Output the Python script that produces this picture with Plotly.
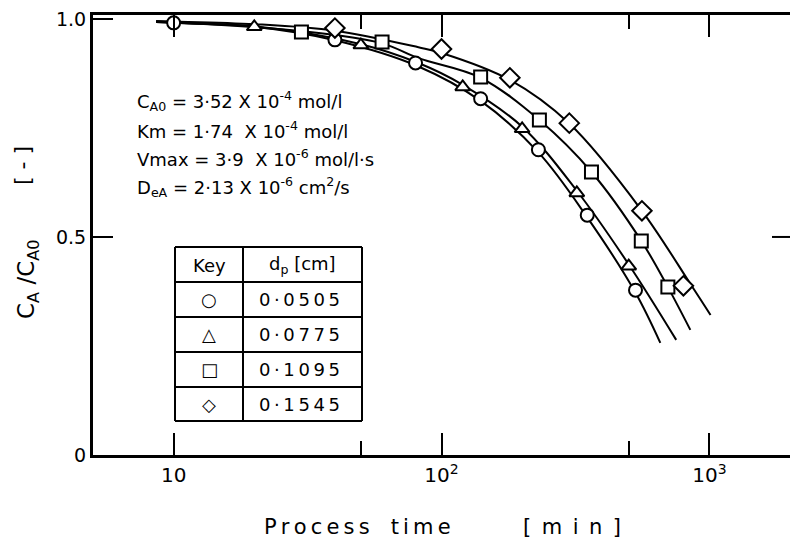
import plotly.graph_objects as go

# Measured residual concentration ratio C_A/C_A0 vs process time [min]
t_circle = [10, 40, 80, 140, 230, 350, 530]
c_circle = [0.991, 0.952, 0.899, 0.817, 0.700, 0.550, 0.378]
t_tri = [20, 50, 120, 200, 320, 500]
c_tri = [0.982, 0.940, 0.844, 0.748, 0.601, 0.433]
t_sq = [30, 60, 140, 232, 363, 557, 700]
c_sq = [0.970, 0.947, 0.867, 0.768, 0.649, 0.491, 0.385]
t_dia = [40, 100, 180, 300, 560, 800]
c_dia = [0.979, 0.931, 0.865, 0.761, 0.560, 0.388]

# Calculated curves, one per particle diameter
curve_t_circle = [8.6, 10, 20, 40, 82, 140, 230, 350, 530, 656]
curve_c_circle = [0.993, 0.991, 0.982, 0.951, 0.891, 0.812, 0.694, 0.545, 0.372, 0.257]
curve_t_tri = [8.6, 10, 20, 50, 82, 120, 200, 320, 500, 752]
curve_c_tri = [0.993, 0.991, 0.983, 0.942, 0.899, 0.849, 0.753, 0.606, 0.437, 0.264]
curve_t_sq = [8.6, 10, 30, 60, 82, 140, 232, 363, 557, 700, 849]
curve_c_sq = [0.994, 0.992, 0.972, 0.944, 0.910, 0.865, 0.768, 0.649, 0.491, 0.385, 0.287]
curve_t_dia = [8.6, 10, 20, 40, 82, 100, 180, 300, 560, 850, 1010]
curve_c_dia = [0.995, 0.994, 0.988, 0.973, 0.935, 0.922, 0.860, 0.760, 0.560, 0.392, 0.321]

diameters = ["0·0505", "0·0775", "0·1095", "0·1545"]
key_glyphs = ["○", "△", "□", "◇"]
symbols = ["circle", "triangle-up", "square", "diamond"]

x_tickvals = [10, 100, 1000]
x_ticktext = ["10", "10<sup>2</sup>", "10<sup>3</sup>"]
x_minor = [50, 500]
y_tickvals = [0, 0.5, 1.0]
y_ticktext = ["0", "0.5", "1.0"]

params = [
    "C<sub>A0</sub> = 3·52 X 10<sup>-4</sup> mol/l",
    "Km = 1·74  X 10<sup>-4</sup> mol/l",
    "Vmax = 3·9  X 10<sup>-6</sup> mol/l·s",
    "D<sub>eA</sub> = 2·13 X 10<sup>-6</sup> cm<sup>2</sup>/s",
]

W, H = 790, 544
ML, MR, MT, MB = 93, 0, 15, 89
PW, PH = W - ML - MR, H - MT - MB
FONT = "DejaVu Sans"


def px(x):
    return (x - ML) / PW


def py(y):
    return (H - MB - y) / PH


def label(text, x, y, size, xanchor="center", angle=0):
    return dict(text=text, xref="paper", yref="paper", x=px(x), y=py(y),
                xanchor=xanchor, yanchor="middle", showarrow=False,
                textangle=angle,
                font=dict(family=FONT, size=size, color="black"))


fig = go.Figure()

curves = [
    (curve_t_circle, curve_c_circle),
    (curve_t_tri, curve_c_tri),
    (curve_t_sq, curve_c_sq),
    (curve_t_dia, curve_c_dia),
]
for ct, cc in curves:
    fig.add_trace(go.Scatter(
        x=ct, y=cc, mode="lines",
        line=dict(color="black", width=2, shape="spline", smoothing=1.0),
        hoverinfo="skip", showlegend=False,
    ))

points = [(t_circle, c_circle), (t_tri, c_tri), (t_sq, c_sq), (t_dia, c_dia)]
sizes = [13, 13, 13, 15]
for (pt, pc), sym, sz, d in zip(points, symbols, sizes, diameters):
    fig.add_trace(go.Scatter(
        x=pt, y=pc, mode="markers", name=d,
        marker=dict(symbol=sym, size=sz, color="white",
                    line=dict(color="black", width=2)),
        showlegend=False,
    ))

shapes = []
# right-hand tick at 0.5
shapes.append(dict(type="line", xref="paper", yref="y",
                   x0=1 - 18 / PW, x1=1, y0=0.5, y1=0.5,
                   line=dict(color="black", width=2)))

# key table frame
tx0, tx1, tdiv = 175, 362, 243
rows_y = [247, 282, 317, 352, 387, 421]
for yy in rows_y:
    shapes.append(dict(type="line", xref="paper", yref="paper",
                       x0=px(tx0), x1=px(tx1), y0=py(yy), y1=py(yy),
                       line=dict(color="black", width=2)))
for xx in (tx0, tdiv, tx1):
    shapes.append(dict(type="line", xref="paper", yref="paper",
                       x0=px(xx), x1=px(xx), y0=py(rows_y[0]), y1=py(rows_y[-1]),
                       line=dict(color="black", width=2)))

annotations = []
# parameter block
for i, txt in enumerate(params):
    annotations.append(label(txt, 135, 101 + 28.5 * i, 18, xanchor="left"))

# key table contents
ckey = (tx0 + tdiv) / 2
cval = (tdiv + tx1) / 2
annotations.append(label("Key", ckey, 265, 18))
annotations.append(label("d<sub>p</sub> [cm]", cval, 265, 18))
for i, (g, d) in enumerate(zip(key_glyphs, diameters)):
    yc = (rows_y[i + 1] + rows_y[i + 2]) / 2
    annotations.append(label(g, ckey, yc, 18))
    annotations.append(label("\u2009".join(d), cval - 3, yc, 18))

# axis titles
annotations.append(label("\u2009".join("Process") + "\u2003" + "\u2009".join("time"),
                         357, 527, 21))
annotations.append(label("\u2002".join("[min]"), 572, 527, 21))
annotations.append(label("C<sub>A</sub> /C<sub>A0</sub>", 28, 280, 23, angle=-90))
annotations.append(label("[ - ]", 23, 166, 22, angle=-90))

fig.update_layout(
    width=W, height=H,
    margin=dict(l=ML, r=MR, t=MT, b=MB),
    paper_bgcolor="white", plot_bgcolor="white",
    shapes=shapes, annotations=annotations,
    font=dict(family=FONT, color="black"),
    xaxis=dict(
        type="log", range=[0.699, 3.301],
        tickvals=x_tickvals, ticktext=x_ticktext,
        ticks="inside", ticklen=22, tickwidth=2, tickcolor="black",
        minor=dict(tickvals=x_minor, ticks="inside", ticklen=14,
                   tickwidth=2, tickcolor="black", showgrid=False),
        showline=True, linewidth=3, linecolor="black", mirror="ticks",
        showgrid=False, zeroline=False,
        tickfont=dict(family=FONT, size=20, color="black"),
    ),
    yaxis=dict(
        range=[0, 1.009],
        tickvals=y_tickvals, ticktext=y_ticktext,
        ticks="inside", ticklen=20, tickwidth=2, tickcolor="black",
        showline=True, linewidth=3, linecolor="black",
        showgrid=False, zeroline=False,
        tickfont=dict(family=FONT, size=19, color="black"),
    ),
)

fig.write_html("out.html")
